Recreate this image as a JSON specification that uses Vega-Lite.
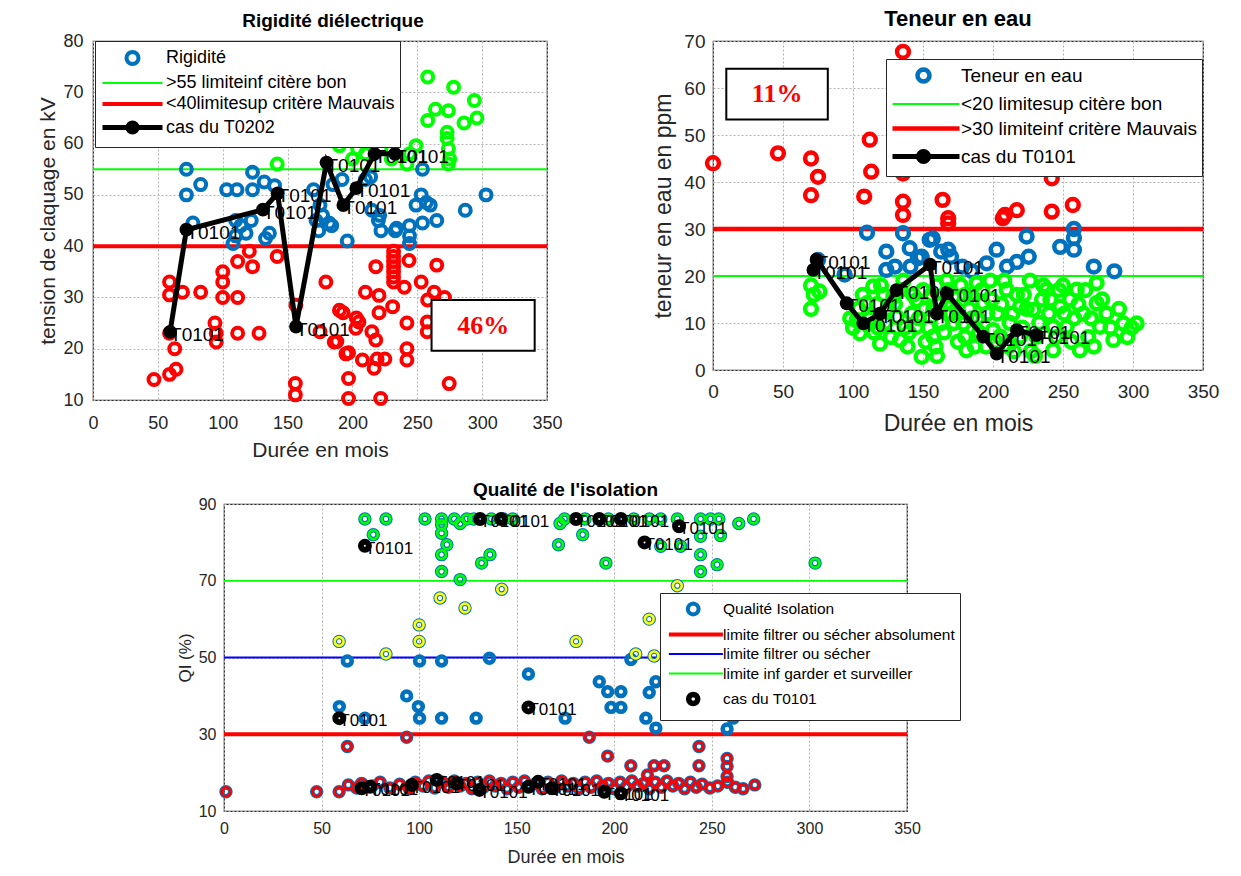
{
"$schema": "https://vega.github.io/schema/vega-lite/v6.json",
"background": "white",
"padding": {"left": 37, "top": 7, "right": 5, "bottom": 5},
"config": {
  "font": "Liberation Sans",
  "view": {"stroke": "#262626", "strokeWidth": 1.2},
  "axis": {"grid": true, "gridDash": [2, 2], "gridColor": "#b5b5b5", "gridWidth": 1, "domain": false, "ticks": false, "labelFlush": false, "labelOverlap": false, "labelColor": "#262626", "titleColor": "#262626", "titleFontWeight": "normal", "labelFont": "Liberation Sans", "titleFont": "Liberation Sans"},
  "title": {"font": "Liberation Sans", "fontWeight": "bold", "color": "black", "anchor": "middle"}
},
"datasets": {
  "rig": [
    {"m":72,"v":55},{"m":83,"v":52},{"m":72,"v":50},{"m":103,"v":51},{"m":111,"v":51},{"m":123,"v":54.4},{"m":123,"v":51},{"m":132,"v":52.5},{"m":140,"v":51.8},{"m":77,"v":44.5},{"m":110,"v":45},{"m":110,"v":42},{"m":118,"v":42.5},{"m":122,"v":45},{"m":136,"v":42.5},{"m":133,"v":41.5},{"m":108,"v":40.5},{"m":114,"v":44},{"m":172,"v":45},{"m":174,"v":43},{"m":175,"v":48},{"m":177,"v":46},{"m":184,"v":44},{"m":196,"v":41},{"m":182,"v":44.5},{"m":192,"v":53},{"m":210,"v":53},{"m":214,"v":53.5},{"m":215,"v":47},{"m":221,"v":46},{"m":220,"v":45},{"m":222,"v":43},{"m":233,"v":43},{"m":234,"v":43.5},{"m":244,"v":44},{"m":244,"v":42},{"m":244,"v":40.5},{"m":253,"v":50},{"m":249,"v":48},{"m":260,"v":48},{"m":254,"v":44.5},{"m":265,"v":45},{"m":287,"v":47},{"m":303,"v":50},{"m":254,"v":55},{"m":257,"v":48.5},{"m":170,"v":51},{"m":185,"v":52},
    {"m":142,"v":56},{"m":174,"v":61},{"m":190,"v":59.6},{"m":204,"v":59},{"m":185,"v":60.5},{"m":196,"v":62},{"m":210,"v":58},{"m":200,"v":57},{"m":230,"v":57},{"m":258,"v":73},{"m":278,"v":71},{"m":294,"v":68.4},{"m":296,"v":65},{"m":286,"v":64},{"m":264,"v":66.7},{"m":274,"v":66.4},{"m":258,"v":64.5},{"m":273,"v":62.2},{"m":273,"v":61},{"m":274,"v":59},{"m":274,"v":56},{"m":249,"v":59.6},{"m":242,"v":56},{"m":244,"v":58},{"m":275,"v":57},{"m":222,"v":59},
    {"m":59,"v":33},{"m":59,"v":30.5},{"m":69,"v":31},{"m":83,"v":31},{"m":59,"v":23},{"m":63,"v":20},{"m":59,"v":15},{"m":64,"v":16},{"m":47,"v":14},{"m":94,"v":25},{"m":95,"v":23},{"m":95,"v":21.3},{"m":100,"v":35},{"m":100,"v":33},{"m":100,"v":30},{"m":111.5,"v":30},{"m":111.5,"v":37},{"m":120.5,"v":39},{"m":123,"v":36},{"m":111.5,"v":23},{"m":128,"v":23},{"m":142,"v":38},{"m":156.4,"v":28.5},{"m":156,"v":13.2},{"m":156,"v":11},{"m":179.5,"v":33},{"m":175,"v":23.3},{"m":188,"v":21.4},{"m":192.8,"v":27},{"m":203,"v":26},{"m":197,"v":19.2},{"m":218,"v":36},{"m":231.7,"v":39},{"m":231.7,"v":38},{"m":231.7,"v":37},{"m":231.7,"v":36},{"m":231.7,"v":35},{"m":231.7,"v":34},{"m":231.7,"v":33},{"m":243.6,"v":37.2},{"m":265,"v":36.3},{"m":210,"v":31},{"m":220.5,"v":30.4},{"m":240,"v":32},{"m":253,"v":33},{"m":258,"v":29.5},{"m":271,"v":30},{"m":190,"v":27.5},{"m":202.6,"v":24},{"m":205,"v":25.2},{"m":220.5,"v":27},{"m":231,"v":28.2},{"m":242,"v":25},{"m":215,"v":23.3},{"m":218,"v":21.7},{"m":186,"v":21.3},{"m":195,"v":19},{"m":207.7,"v":17.8},{"m":219,"v":18},{"m":225,"v":18},{"m":216.7,"v":16.2},{"m":242,"v":20},{"m":242,"v":17.8},{"m":257.7,"v":25.2},{"m":257.7,"v":23.3},{"m":197,"v":14.2},{"m":197,"v":10.3},{"m":221.8,"v":10.3},{"m":274.6,"v":13.2},{"m":263,"v":31}
  ],
  "rigcas": [
    {"m":59.4,"v":23.3},{"m":72,"v":43.2},{"m":131,"v":47.1},{"m":142.3,"v":50.3},{"m":156.5,"v":24.3},{"m":180,"v":56.3},{"m":193,"v":48},{"m":203,"v":51.3},{"m":217,"v":58},{"m":232.8,"v":58}
  ],
  "limA": [{"v":55,"k":"bon"},{"v":40,"k":"mauvais"}],
  "boxA": [{"m":261,"m2":340.5,"v":29.5,"v2":19.6,"mc":300.8,"vc":24.5,"txt":"46%"}],
  "eau": [
    {"m":0,"v":44},{"m":46.4,"v":46.1},{"m":70,"v":45},{"m":75,"v":41.1},{"m":70,"v":37.2},{"m":112,"v":49},{"m":113,"v":42.2},{"m":108,"v":36.9},{"m":135.7,"v":67.7},{"m":135.7,"v":41.8},{"m":135.7,"v":35.8},{"m":135.7,"v":33},{"m":164,"v":36.2},{"m":168,"v":32.3},{"m":168,"v":31.2},{"m":175,"v":43},{"m":207,"v":32.3},{"m":208.5,"v":33},{"m":217,"v":34},{"m":242,"v":40.8},{"m":242,"v":33.7},{"m":257,"v":35.1},
    {"m":110,"v":29.2},{"m":123.8,"v":25.2},{"m":123.8,"v":21.3},{"m":135.7,"v":29.1},{"m":140.5,"v":25.9},{"m":146.4,"v":23.8},{"m":154.8,"v":27.7},{"m":163,"v":25.2},{"m":168,"v":25.6},{"m":170,"v":24.1},{"m":94,"v":20.3},{"m":75,"v":23.4},{"m":149,"v":24.1},{"m":157,"v":28},{"m":195.5,"v":22.7},{"m":202.6,"v":25.6},{"m":217,"v":23},{"m":224,"v":28.4},{"m":225.5,"v":24.1},{"m":248,"v":26.2},{"m":257.8,"v":30},{"m":257.8,"v":28.1},{"m":257.8,"v":25.6},{"m":272,"v":22},{"m":286.7,"v":21},{"m":210,"v":22},{"m":141,"v":22},{"m":130,"v":22},{"m":178,"v":22},{"m":185,"v":21},
    {"m":70,"v":18},{"m":70,"v":13},{"m":76,"v":16.7},{"m":72,"v":16},{"m":98,"v":11},{"m":102.6,"v":10.6},{"m":105,"v":7.8},{"m":110,"v":14.2},{"m":114.5,"v":17.8},{"m":119.3,"v":5.6},{"m":118,"v":9},{"m":125,"v":13},{"m":128.8,"v":15.6},{"m":131,"v":11.3},{"m":133.6,"v":6.4},{"m":136,"v":19},{"m":140,"v":8},{"m":142,"v":12},{"m":145.5,"v":9.2},{"m":145.5,"v":14.9},{"m":149,"v":2.8},{"m":150,"v":17},{"m":152,"v":6},{"m":157.4,"v":12.8},{"m":157.4,"v":7.1},{"m":160,"v":18},{"m":163,"v":10},{"m":167,"v":19},{"m":171.7,"v":15.6},{"m":175,"v":6},{"m":178.8,"v":9.9},{"m":181,"v":4.2},{"m":183,"v":13},{"m":188.3,"v":18.5},{"m":190,"v":8},{"m":193,"v":14.2},{"m":198,"v":19},{"m":200,"v":8.5},{"m":203,"v":12},{"m":205,"v":7.1},{"m":209.7,"v":17.1},{"m":212,"v":10},{"m":219.3,"v":13.5},{"m":219.3,"v":7.1},{"m":222,"v":16},{"m":226.4,"v":19},{"m":228.8,"v":12.8},{"m":231,"v":7.1},{"m":235,"v":15},{"m":238.3,"v":17.1},{"m":243,"v":4.2},{"m":243,"v":9.2},{"m":248,"v":13.5},{"m":250,"v":18},{"m":252.6,"v":9.2},{"m":255,"v":15},{"m":259.8,"v":17.1},{"m":262,"v":4.2},{"m":264.5,"v":12},{"m":268,"v":7},{"m":274,"v":18.5},{"m":274,"v":14.2},{"m":276.4,"v":9.2},{"m":281,"v":12},{"m":286,"v":6.4},{"m":293,"v":9.9},{"m":302.6,"v":9.9},{"m":180,"v":16},{"m":170,"v":12},{"m":160,"v":3},{"m":230,"v":3},{"m":215,"v":4},{"m":185,"v":11},{"m":195,"v":5},{"m":240,"v":12},{"m":122,"v":16},{"m":112,"v":11},
    {"m":100,"v":9},{"m":104,"v":13},{"m":107,"v":16},{"m":115,"v":8},{"m":117,"v":14},{"m":120,"v":18},{"m":123,"v":10},{"m":127,"v":7},{"m":130,"v":14},{"m":134,"v":17},{"m":137,"v":9},{"m":139,"v":5},{"m":143,"v":16},{"m":147,"v":11},{"m":151,"v":13},{"m":154,"v":9},{"m":156,"v":16},{"m":159,"v":5},{"m":162,"v":14},{"m":165,"v":8},{"m":168,"v":17},{"m":172,"v":10},{"m":174,"v":13},{"m":177,"v":18},{"m":180,"v":7},{"m":184,"v":16},{"m":187,"v":5},{"m":189,"v":11},{"m":192,"v":17},{"m":196,"v":12},{"m":199,"v":15},{"m":202,"v":6},{"m":206,"v":14},{"m":208,"v":19},{"m":211,"v":5},{"m":214,"v":12},{"m":217,"v":16},{"m":221,"v":9},{"m":224,"v":13},{"m":227,"v":4},{"m":233,"v":10},{"m":236,"v":18},{"m":241,"v":15},{"m":245,"v":7},{"m":247,"v":17},{"m":251,"v":12},{"m":256,"v":6},{"m":258,"v":11},{"m":261,"v":14},{"m":266,"v":17},{"m":270,"v":11},{"m":272,"v":5},{"m":278,"v":15},{"m":284,"v":9},{"m":290,"v":13},{"m":296,"v":7},{"m":299,"v":9}
  ],
  "eaucas": [
    {"m":71.7,"v":21.3},{"m":74,"v":23.5},{"m":95.5,"v":14.2},{"m":107.4,"v":9.9},{"m":119.3,"v":12},{"m":131,"v":17},{"m":155,"v":22.4},{"m":159.8,"v":12},{"m":167,"v":16.3},{"m":193,"v":7.1},{"m":202.6,"v":3.5},{"m":217,"v":8.5},{"m":231,"v":7.4}
  ],
  "limB": [{"v":20,"k":"bon"},{"v":30,"k":"mauvais"}],
  "boxB": [{"m":9.5,"m2":82,"v":64.1,"v2":53.3,"mc":45.8,"vc":58.7,"txt":"11%"}],
  "qi": [
    {"m":72.2,"v":86.1},{"m":83,"v":86.1},{"m":103,"v":86.1},{"m":111.5,"v":86.1},{"m":111.5,"v":84.6},{"m":111.5,"v":82.4},{"m":114.2,"v":79.4},{"m":111.5,"v":76.8},{"m":111.5,"v":72.4},{"m":76.5,"v":82},{"m":121,"v":70.3},{"m":121,"v":84.9},{"m":124.4,"v":86.1},{"m":132,"v":74.6},{"m":136.3,"v":76.8},{"m":143.2,"v":86.1},{"m":148,"v":86.1},{"m":172.2,"v":84.9},{"m":171.4,"v":79.4},{"m":174.5,"v":86.1},{"m":183.8,"v":82},{"m":195.7,"v":74.6},{"m":223.8,"v":86.1},{"m":232.3,"v":86.1},{"m":244.2,"v":86.1},{"m":249.3,"v":86.1},{"m":253.6,"v":86.1},{"m":263.8,"v":84.9},{"m":271.4,"v":86.1},{"m":244.2,"v":81.6},{"m":254.4,"v":81.8},{"m":223.8,"v":79},{"m":234,"v":79},{"m":244.2,"v":76.8},{"m":244.2,"v":72.4},{"m":252.7,"v":74.2},{"m":302.9,"v":74.6},{"m":118,"v":86.1},{"m":128,"v":86.1},{"m":137,"v":86.1},{"m":185,"v":86.1},{"m":197,"v":86.1},{"m":210,"v":86.1},{"m":218,"v":86.1},
    {"m":59,"v":54.2},{"m":83,"v":50.9},{"m":100,"v":58.5},{"m":100,"v":54.2},{"m":110.7,"v":65.5},{"m":123.5,"v":62.9},{"m":142.3,"v":67.8},{"m":180.4,"v":54.2},{"m":217.9,"v":60},{"m":211,"v":50.9},{"m":220.4,"v":50.4},{"m":232.3,"v":68.7},
    {"m":63.2,"v":49.1},{"m":100.2,"v":49.1},{"m":111.5,"v":49.1},{"m":136,"v":49.8},{"m":156,"v":45.7},{"m":93.6,"v":40},{"m":99.6,"v":37.2},{"m":100.2,"v":34.2},{"m":111.5,"v":34.2},{"m":129.2,"v":34.2},{"m":59.1,"v":37.2},{"m":72.2,"v":34.2},{"m":174.8,"v":34.2},{"m":208.5,"v":49.5},{"m":192.3,"v":43.7},{"m":196.6,"v":41.1},{"m":203.4,"v":41.1},{"m":198.3,"v":37},{"m":203.4,"v":37},{"m":217.9,"v":40.9},{"m":221.3,"v":43.7},{"m":216.2,"v":34.2},{"m":221.3,"v":31.6},{"m":257.8,"v":31.4},{"m":260.9,"v":34.2},
    {"m":63.2,"v":26.8},{"m":93.6,"v":29.2},{"m":187.2,"v":29.2},{"m":196.6,"v":24.3},{"m":208.5,"v":21.8},{"m":220.4,"v":21.8},{"m":225.5,"v":21.8},{"m":243.4,"v":26.8},{"m":243.4,"v":21.8},{"m":257.8,"v":23.7},{"m":257.8,"v":21.6},{"m":257.8,"v":19},{"m":217,"v":19.4},
    {"m":1,"v":15},{"m":47.5,"v":15},{"m":59,"v":15},{"m":63.7,"v":16.8},{"m":68,"v":16},{"m":70.5,"v":17.2},{"m":76,"v":16.5},{"m":80,"v":17.5},{"m":85,"v":16},{"m":90,"v":17},{"m":95,"v":15.8},{"m":98,"v":17.5},{"m":102,"v":16.5},{"m":105,"v":17.8},{"m":108,"v":16},{"m":112,"v":17.5},{"m":115,"v":16.2},{"m":118,"v":17.8},{"m":121,"v":16.5},{"m":124,"v":17.2},{"m":127,"v":15.8},{"m":130,"v":17.5},{"m":133,"v":16.2},{"m":136,"v":17.8},{"m":139,"v":16.5},{"m":142,"v":17.2},{"m":145,"v":15.8},{"m":148,"v":17.5},{"m":151,"v":16.2},{"m":154,"v":17.8},{"m":157,"v":16.5},{"m":160,"v":17.2},{"m":163,"v":15.8},{"m":166,"v":17.5},{"m":170,"v":16.2},{"m":173,"v":17.8},{"m":176,"v":16.5},{"m":179,"v":17.2},{"m":182,"v":15.8},{"m":185,"v":17.5},{"m":188,"v":16.2},{"m":191,"v":17.8},{"m":194,"v":16.5},{"m":197,"v":17.2},{"m":200,"v":15.8},{"m":203,"v":17.5},{"m":206,"v":16.2},{"m":209,"v":17.8},{"m":212,"v":16.5},{"m":215,"v":17.2},{"m":218,"v":15.8},{"m":221,"v":17.5},{"m":224,"v":16.2},{"m":227,"v":17.8},{"m":230,"v":16.5},{"m":233,"v":17.2},{"m":236,"v":15.8},{"m":239,"v":17.5},{"m":242,"v":16.2},{"m":245,"v":17},{"m":249,"v":16},{"m":253,"v":16.5},{"m":258,"v":17.5},{"m":262,"v":16.2},{"m":266,"v":15.8},{"m":272,"v":16.8}
  ],
  "qicas": [
    {"m":72.2,"v":79.1},{"m":59.1,"v":34.2},{"m":156,"v":37},{"m":131.2,"v":86.1},{"m":142,"v":86.1},{"m":180.4,"v":86.1},{"m":192.3,"v":86.1},{"m":203.4,"v":86.1},{"m":233.2,"v":84.2},{"m":215.5,"v":80},{"m":70.5,"v":15.9},{"m":74.8,"v":16.3},{"m":96.2,"v":16.8},{"m":109,"v":18.1},{"m":119.3,"v":17.2},{"m":130.9,"v":15.5},{"m":156,"v":16.3},{"m":161,"v":17.6},{"m":168,"v":15.9},{"m":194.9,"v":15},{"m":203.4,"v":14.6}
  ],
  "limC": [{"v":30,"k":"absolu"},{"v":50,"k":"filtrer"},{"v":70,"k":"garder"}]
},
"spacing": 19,
"resolve": {"scale": {"color": "independent", "shape": "independent", "strokeWidth": "independent"}, "legend": {"color": "independent", "shape": "independent", "strokeWidth": "independent"}},
"vconcat": [
  {
    "spacing": 89,
    "resolve": {"scale": {"color": "independent", "shape": "independent", "strokeWidth": "independent"}, "legend": {"color": "independent", "shape": "independent", "strokeWidth": "independent"}},
    "hconcat": [
      {
        "width": 454, "height": 359,
        "title": {"text": "Rigidité diélectrique", "fontSize": 19, "offset": 1, "dx": 13},
        "layer": [
          {
            "data": {"name": "limA"},
            "mark": {"type": "rule"},
            "encoding": {
              "y": {"field": "v", "type": "quantitative"},
              "color": {"condition": {"test": "datum.k == 'bon'", "value": "#00FF00"}, "value": "#FF0000"},
              "strokeWidth": {"condition": {"test": "datum.k == 'bon'", "value": 2}, "value": 4}
            }
          },
          {
            "data": {"name": "rig"},
            "mark": {"type": "point", "filled": false, "size": 120, "strokeWidth": 4, "opacity": 1},
            "encoding": {
              "x": {"field": "m", "type": "quantitative", "scale": {"domain": [0, 350], "nice": false, "zero": false}, "axis": {"title": "Durée en mois", "values": [0,50,100,150,200,250,300,350], "labelFontSize": 18, "titleFontSize": 21, "labelPadding": 14, "titlePadding": 7}},
              "y": {"field": "v", "type": "quantitative", "scale": {"domain": [10, 80], "nice": false, "zero": false}, "axis": {"title": "tension de claquage en kV", "values": [10,20,30,40,50,60,70,80], "labelFontSize": 18, "titleFontSize": 21, "labelPadding": 10, "titlePadding": 4}},
              "color": {"condition": [{"test": "datum.v < 40", "value": "#FF0000"}, {"test": "datum.v <= 55", "value": "#0072BD"}], "value": "#00FF00"}
            }
          },
          {
            "data": {"name": "rigcas"},
            "mark": {"type": "text", "text": "T0101", "align": "left", "baseline": "middle", "fontSize": 19, "dy": 3, "color": "black"},
            "encoding": {"x": {"field": "m", "type": "quantitative"}, "y": {"field": "v", "type": "quantitative"}}
          },
          {
            "data": {"name": "rigcas"},
            "mark": {"type": "line", "color": "black", "strokeWidth": 5, "point": {"filled": true, "size": 190, "color": "black", "opacity": 1}},
            "encoding": {"x": {"field": "m", "type": "quantitative"}, "y": {"field": "v", "type": "quantitative"}}
          },
          {
            "data": {"name": "boxA"},
            "mark": {"type": "rect", "fill": "white", "stroke": "black", "strokeWidth": 2},
            "encoding": {"x": {"field": "m", "type": "quantitative"}, "x2": {"field": "m2"}, "y": {"field": "v", "type": "quantitative"}, "y2": {"field": "v2"}}
          },
          {
            "data": {"name": "boxA"},
            "mark": {"type": "text", "font": "Liberation Serif", "fontSize": 26, "fontWeight": "bold", "color": "#FF0000", "align": "center", "baseline": "middle"},
            "encoding": {"x": {"field": "mc", "type": "quantitative"}, "y": {"field": "vc", "type": "quantitative"}, "text": {"field": "txt"}}
          },
          {
            "data": {"name": "boxA"},
            "transform": [{"filter": "false"}],
            "mark": {"type": "point", "filled": false, "opacity": 1},
            "encoding": {
              "color": {"field": "name", "type": "nominal",
                "scale": {"domain": ["Rigidité", ">55 limiteinf citère bon", "<40limitesup critère Mauvais", "cas du T0202"], "range": ["#0072BD", "#00FF00", "#FF0000", "#000000"]},
                "legend": {"title": null, "orient": "none", "legendX": 2, "legendY": 0, "fillColor": "white", "strokeColor": "#262626", "padding": 5, "labelFontSize": 18, "labelFont": "Liberation Sans", "labelColor": "black", "symbolSize": 400, "labelOffset": 41, "rowPadding": 0, "labelLimit": 400}},
              "shape": {"field": "name", "type": "nominal",
                "scale": {"domain": ["Rigidité", ">55 limiteinf citère bon", "<40limitesup critère Mauvais", "cas du T0202"], "range": ["M2.6,0L2.554,0.23L2.424,0.424L2.23,0.554L2,0.6L1.77,0.554L1.576,0.424L1.446,0.23L1.4,0L1.446,-0.23L1.576,-0.424L1.77,-0.554L2,-0.6L2.23,-0.554L2.424,-0.424L2.554,-0.23Z", "M-1,0L5,0", "M-1,0L5,0", "M-1,0L5,0M2.45,0L2.416,0.172L2.318,0.318L2.172,0.416L2,0.45L1.828,0.416L1.682,0.318L1.584,0.172L1.55,0L1.584,-0.172L1.682,-0.318L1.828,-0.416L2,-0.45L2.172,-0.416L2.318,-0.318L2.416,-0.172Z"]}},
              "strokeWidth": {"field": "name", "type": "nominal",
                "scale": {"type": "ordinal", "domain": ["Rigidité", ">55 limiteinf citère bon", "<40limitesup critère Mauvais", "cas du T0202"], "range": [4, 2, 4, 5]}}
            }
          }
        ]
      },
      {
        "width": 490, "height": 329,
        "title": {"text": "Teneur en eau", "fontSize": 22, "offset": 1},
        "layer": [
          {
            "data": {"name": "limB"},
            "mark": {"type": "rule"},
            "encoding": {
              "y": {"field": "v", "type": "quantitative"},
              "color": {"condition": {"test": "datum.k == 'bon'", "value": "#00FF00"}, "value": "#FF0000"},
              "strokeWidth": {"condition": {"test": "datum.k == 'bon'", "value": 2}, "value": 4.5}
            }
          },
          {
            "data": {"name": "eau"},
            "mark": {"type": "point", "filled": false, "size": 140, "strokeWidth": 4.5, "opacity": 1},
            "encoding": {
              "x": {"field": "m", "type": "quantitative", "scale": {"domain": [0, 350], "nice": false, "zero": false}, "axis": {"title": "Durée en mois", "values": [0,50,100,150,200,250,300,350], "labelFontSize": 19, "titleFontSize": 23, "labelPadding": 12, "titlePadding": 11}},
              "y": {"field": "v", "type": "quantitative", "scale": {"domain": [0, 70], "nice": false, "zero": false}, "axis": {"title": "teneur en eau en ppm", "values": [0,10,20,30,40,50,60,70], "labelFontSize": 19, "titleFontSize": 23, "labelPadding": 8, "titlePadding": 8}},
              "color": {"condition": [{"test": "datum.v > 30", "value": "#FF0000"}, {"test": "datum.v >= 20", "value": "#0072BD"}], "value": "#00FF00"}
            }
          },
          {
            "data": {"name": "eaucas"},
            "mark": {"type": "text", "text": "T0101", "align": "left", "baseline": "middle", "fontSize": 19, "dy": 3, "color": "black"},
            "encoding": {"x": {"field": "m", "type": "quantitative"}, "y": {"field": "v", "type": "quantitative"}}
          },
          {
            "data": {"name": "eaucas"},
            "mark": {"type": "line", "color": "black", "strokeWidth": 5, "point": {"filled": true, "size": 190, "color": "black", "opacity": 1}},
            "encoding": {"x": {"field": "m", "type": "quantitative"}, "y": {"field": "v", "type": "quantitative"}}
          },
          {
            "data": {"name": "boxB"},
            "mark": {"type": "rect", "fill": "white", "stroke": "black", "strokeWidth": 2},
            "encoding": {"x": {"field": "m", "type": "quantitative"}, "x2": {"field": "m2"}, "y": {"field": "v", "type": "quantitative"}, "y2": {"field": "v2"}}
          },
          {
            "data": {"name": "boxB"},
            "mark": {"type": "text", "font": "Liberation Serif", "fontSize": 26, "fontWeight": "bold", "color": "#FF0000", "align": "center", "baseline": "middle"},
            "encoding": {"x": {"field": "mc", "type": "quantitative"}, "y": {"field": "vc", "type": "quantitative"}, "text": {"field": "txt"}}
          },
          {
            "data": {"name": "boxB"},
            "transform": [{"filter": "false"}],
            "mark": {"type": "point", "filled": false, "opacity": 1},
            "encoding": {
              "color": {"field": "name", "type": "nominal",
                "scale": {"domain": ["Teneur en eau", "<20 limitesup citère bon", ">30 limiteinf critère Mauvais", "cas du T0101"], "range": ["#0072BD", "#00FF00", "#FF0000", "#000000"]},
                "legend": {"title": null, "orient": "none", "legendX": 173, "legendY": 18, "fillColor": "white", "strokeColor": "#262626", "padding": 4, "labelFontSize": 19, "labelFont": "Liberation Sans", "labelColor": "black", "symbolSize": 400, "labelOffset": 46, "rowPadding": 2, "labelLimit": 400}},
              "shape": {"field": "name", "type": "nominal",
                "scale": {"domain": ["Teneur en eau", "<20 limitesup citère bon", ">30 limiteinf critère Mauvais", "cas du T0101"], "range": ["M2.7,0L2.654,0.23L2.524,0.424L2.33,0.554L2.1,0.6L1.87,0.554L1.676,0.424L1.546,0.23L1.5,0L1.546,-0.23L1.676,-0.424L1.87,-0.554L2.1,-0.6L2.33,-0.554L2.524,-0.424L2.654,-0.23Z", "M-1,0L5.7,0", "M-1,0L5.7,0", "M-1,0L5.7,0M2.6,0L2.562,0.191L2.454,0.354L2.291,0.462L2.1,0.5L1.909,0.462L1.746,0.354L1.638,0.191L1.6,0L1.638,-0.191L1.746,-0.354L1.909,-0.462L2.1,-0.5L2.291,-0.462L2.454,-0.354L2.562,-0.191Z"]}},
              "strokeWidth": {"field": "name", "type": "nominal",
                "scale": {"type": "ordinal", "domain": ["Teneur en eau", "<20 limitesup citère bon", ">30 limiteinf critère Mauvais", "cas du T0101"], "range": [4.5, 2, 4.5, 5]}}
            }
          }
        ]
      }
    ]
  },
  {
    "spacing": 81,
    "resolve": {"scale": {"color": "independent", "shape": "independent", "strokeWidth": "independent"}, "legend": {"color": "independent", "shape": "independent", "strokeWidth": "independent"}},
    "hconcat": [
      {
        "width": 1, "height": 1,
        "view": {"stroke": null},
        "data": {"name": "limC"},
        "transform": [{"filter": "false"}],
        "mark": {"type": "point"},
        "encoding": {}
      },
      {
        "width": 683, "height": 307,
        "title": {"text": "Qualité de l'isolation", "fontSize": 19, "offset": -4},
        "layer": [
          {
            "data": {"name": "limC"},
            "mark": {"type": "rule"},
            "encoding": {
              "y": {"field": "v", "type": "quantitative"},
              "color": {"condition": [{"test": "datum.k == 'absolu'", "value": "#FF0000"}, {"test": "datum.k == 'filtrer'", "value": "#0000FF"}], "value": "#00FF00"},
              "strokeWidth": {"condition": [{"test": "datum.k == 'absolu'", "value": 4}, {"test": "datum.k == 'filtrer'", "value": 2}], "value": 1.5}
            }
          },
          {
            "data": {"name": "qi"},
            "mark": {"type": "point", "filled": false, "size": 78, "strokeWidth": 4.6, "opacity": 1, "color": "#0072BD"},
            "encoding": {
              "x": {"field": "m", "type": "quantitative", "scale": {"domain": [0, 350], "nice": false, "zero": false}, "axis": {"title": "Durée en mois", "values": [0,50,100,150,200,250,300,350], "labelFontSize": 16, "titleFontSize": 18, "labelPadding": 9, "titlePadding": 12}},
              "y": {"field": "v", "type": "quantitative", "scale": {"domain": [10, 90], "nice": false, "zero": false}, "axis": {"title": "QI (%)", "values": [10,20,30,40,50,60,70,80,90], "labelFontSize": 16, "titleFontSize": 17, "labelPadding": 8, "titlePadding": 4}}
            }
          },
          {
            "data": {"name": "qi"},
            "transform": [{"filter": "datum.v < 30 || datum.v > 50"}],
            "mark": {"type": "point", "filled": false, "size": 78, "strokeWidth": 2.6, "opacity": 1},
            "encoding": {
              "x": {"field": "m", "type": "quantitative"},
              "y": {"field": "v", "type": "quantitative"},
              "color": {"condition": [{"test": "datum.v < 30", "value": "#FF0000"}, {"test": "datum.v <= 70", "value": "#FFFF00"}], "value": "#00FF00"}
            }
          },
          {
            "data": {"name": "qicas"},
            "mark": {"type": "text", "text": "T0101", "align": "left", "baseline": "middle", "fontSize": 17, "dy": 3, "color": "black"},
            "encoding": {"x": {"field": "m", "type": "quantitative"}, "y": {"field": "v", "type": "quantitative"}}
          },
          {
            "data": {"name": "qicas"},
            "mark": {"type": "point", "filled": false, "size": 64, "strokeWidth": 6, "opacity": 1, "color": "black"},
            "encoding": {"x": {"field": "m", "type": "quantitative"}, "y": {"field": "v", "type": "quantitative"}}
          },
          {
            "data": {"name": "limC"},
            "transform": [{"filter": "false"}],
            "mark": {"type": "point", "filled": false, "opacity": 1},
            "encoding": {
              "color": {"field": "name", "type": "nominal",
                "scale": {"domain": ["Qualité Isolation", "limite filtrer ou sécher absolument", "limite filtrer ou sécher", "limite inf garder et surveiller", "cas du T0101"], "range": ["#0072BD", "#FF0000", "#0000FF", "#00FF00", "#000000"]},
                "legend": {"title": null, "orient": "none", "legendX": 436, "legendY": 89, "fillColor": "white", "strokeColor": "#262626", "padding": 5, "labelFontSize": 15.5, "labelFont": "Liberation Sans", "labelColor": "black", "symbolSize": 324, "labelOffset": 34, "rowPadding": 0.5, "labelLimit": 400}},
              "shape": {"field": "name", "type": "nominal",
                "scale": {"domain": ["Qualité Isolation", "limite filtrer ou sécher absolument", "limite filtrer ou sécher", "limite inf garder et surveiller", "cas du T0101"], "range": ["M2.4,0L2.354,0.23L2.224,0.424L2.03,0.554L1.8,0.6L1.57,0.554L1.376,0.424L1.246,0.23L1.2,0L1.246,-0.23L1.376,-0.424L1.57,-0.554L1.8,-0.6L2.03,-0.554L2.224,-0.424L2.354,-0.23Z", "M-0.9,0L5.1,0", "M-0.9,0L5.1,0", "M-0.9,0L5.1,0", "M2.3,0L2.262,0.191L2.154,0.354L1.991,0.462L1.8,0.5L1.609,0.462L1.446,0.354L1.338,0.191L1.3,0L1.338,-0.191L1.446,-0.354L1.609,-0.462L1.8,-0.5L1.991,-0.462L2.154,-0.354L2.262,-0.191Z"]}},
              "strokeWidth": {"field": "name", "type": "nominal",
                "scale": {"type": "ordinal", "domain": ["Qualité Isolation", "limite filtrer ou sécher absolument", "limite filtrer ou sécher", "limite inf garder et surveiller", "cas du T0101"], "range": [4, 4, 2, 2, 5.5]}}
            }
          }
        ]
      }
    ]
  }
]
}
